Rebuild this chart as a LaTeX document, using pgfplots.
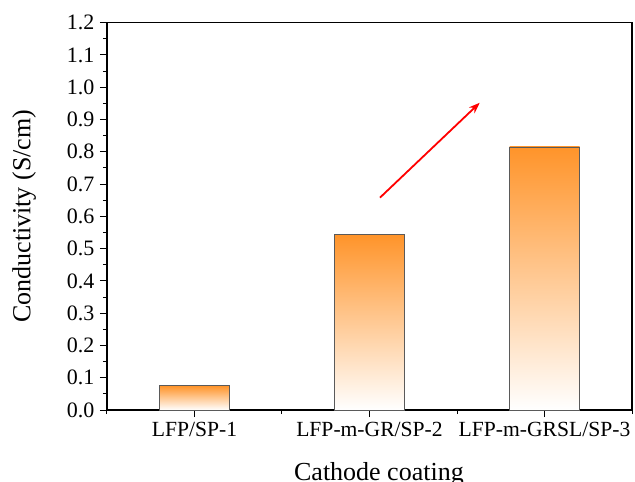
\documentclass[border=0pt]{standalone}
\usepackage{fontspec}
\setmainfont{Liberation Serif}
\usepackage{pgfplots}
\pgfplotsset{compat=1.18}
\usetikzlibrary{arrows.meta}

\definecolor{barorange}{RGB}{255,148,42}
\definecolor{baredge}{RGB}{90,90,90}

\begin{document}
\begin{tikzpicture}
% page frame; the descenders of the x-axis label run off its lower edge
\useasboundingbox (-107pt,-72pt) rectangle (528pt,410pt);
\clip (-107pt,-72pt) rectangle (528pt,410pt);
\begin{axis}[
  at={(0pt,0pt)}, anchor=south west,
  scale only axis,
  width=525pt, height=387.3pt,
  xmin=0.5, xmax=3.5,
  ymin=0, ymax=1.2,
  xtick={1,2,3},
  xticklabels={LFP/SP-1, LFP-m-GR/SP-2, LFP-m-GRSL/SP-3},
  minor xtick={0.5,1.5,2.5,3.5},
  ytick={0,0.1,...,1.2},
  minor y tick num=1,
  xtick pos=bottom, ytick pos=left,
  tick align=outside,
  major tick length=7pt, minor tick length=4pt,
  tick style={black, line width=1pt},
  axis line style={black, line width=1.2pt},
  /pgf/number format/assume math mode=true,
  yticklabel style={/pgf/number format/fixed, /pgf/number format/fixed zerofill,
    /pgf/number format/precision=1, font=\fontsize{22}{26}\selectfont, xshift=-2pt},
  xticklabel style={font=\fontsize{21.6}{25}\selectfont, yshift=-2pt},
  xlabel={Cathode coating},
  ylabel={Conductivity (S/cm)},
  every axis x label/.style={at={(axis description cs:0.518,-0.181)}, anchor=base,
    font=\fontsize{26}{30}\selectfont},
  every axis y label/.style={at={(axis description cs:-0.158,0.5)}, rotate=90, anchor=center,
    font=\fontsize{26}{30}\selectfont},
  clip=false,
]
% one plot per coating so each bar gets its own vertical gradient
\addplot[ybar, bar width=0.4, bar shift=0pt, draw=baredge, line width=0.8pt,
  top color=barorange, bottom color=white] coordinates {(1,0.075)};
\addplot[ybar, bar width=0.4, bar shift=0pt, draw=baredge, line width=0.8pt,
  top color=barorange, bottom color=white] coordinates {(2,0.543)};
\addplot[ybar, bar width=0.4, bar shift=0pt, draw=baredge, line width=0.8pt,
  top color=barorange, bottom color=white] coordinates {(3,0.815)};
% trend arrow
\draw[red, line width=1.8pt, -{Stealth[length=11pt,width=8pt]}]
  (axis cs:2.06,0.658) -- (axis cs:2.63,0.952);
\end{axis}
\end{tikzpicture}
\end{document}
